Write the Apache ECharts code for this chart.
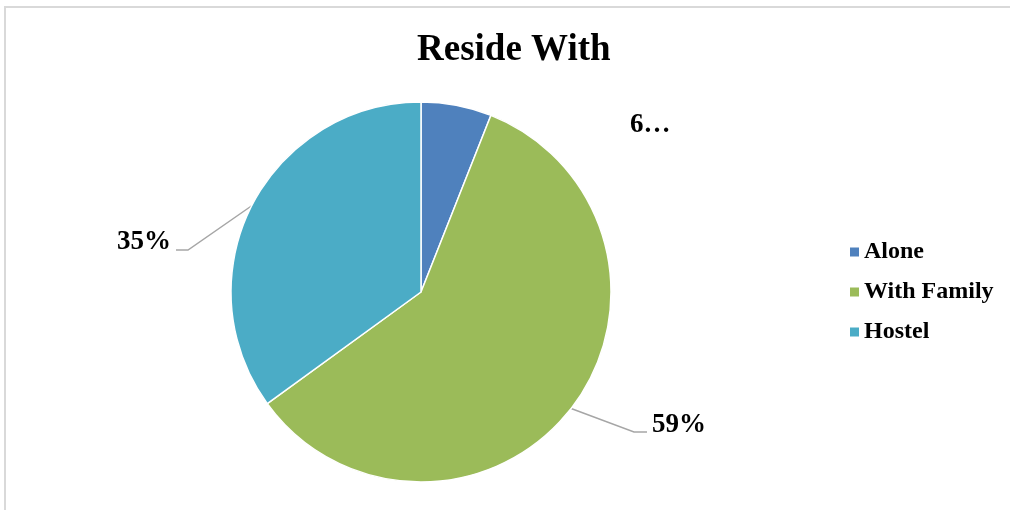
<!DOCTYPE html>
<html>
<head>
<meta charset="utf-8">
<script src="https://cdn.jsdelivr.net/npm/echarts@6/dist/echarts.min.js"></script>
<style>
  html, body { margin: 0; padding: 0; background: #fff; }
  #frame { position: absolute; left: 4px; top: 6px; width: 1010px; height: 510px;
           border-left: 2px solid #d9d9d9; border-top: 2px solid #d9d9d9; }
  #main { position: absolute; left: 0; top: 0; width: 1010px; height: 510px; }
</style>
</head>
<body>
<div id="frame"></div>
<div id="main"></div>
<script>
// data
var categories = ['Alone', 'With Family', 'Hostel'];
var shares = [6, 59, 35];
var colors = ['#4f81bd', '#9bbb59', '#4bacc6'];

var serif = '"Liberation Serif", "Times New Roman", serif';
var myChart = echarts.init(document.getElementById('main'));

var data = categories.map(function (name, i) {
  return {
    name: name,
    value: shares[i],
    labelLine: { show: i !== 0 }
  };
});

myChart.setOption({
  animation: false,
  color: colors,
  title: {
    text: 'Reside With',
    left: 417,
    top: 32,
    padding: 0,
    textStyle: { fontFamily: serif, fontWeight: 'bold', fontSize: 37, color: '#000' }
  },
  legend: {
    orient: 'vertical',
    left: 848,
    top: 240,
    padding: 0,
    itemWidth: 11,
    itemHeight: 11,
    itemGap: 16,
    icon: 'rect',
    textStyle: { fontFamily: serif, fontWeight: 'bold', fontSize: 24, lineHeight: 24, color: '#000', padding: [0, 0, 0, -1] },
    data: categories
  },
  series: [{
    type: 'pie',
    center: [421, 292],
    radius: 190,
    startAngle: 90,
    clockwise: true,
    itemStyle: { borderColor: '#fff', borderWidth: 1.5 },
    label: {
      show: true,
      position: 'outside',
      fontFamily: serif,
      fontWeight: 'bold',
      fontSize: 27,
      color: '#000',
      formatter: function (p) {
        return p.dataIndex === 0 ? String(p.value).charAt(0) + '…' : p.value + '%';
      }
    },
    labelLine: { show: true, lineStyle: { color: '#a6a6a6', width: 1.5 } },
    labelLayout: function (p) {
      var s = p.labelLinePoints ? p.labelLinePoints[0] : null;
      if (p.dataIndex === 0) {
        return { x: 630, y: 125, align: 'left', verticalAlign: 'middle' };
      }
      if (p.dataIndex === 1) {
        return { x: 652, y: 425, align: 'left', verticalAlign: 'middle',
                 labelLinePoints: [s, [634, 432], [647, 432]] };
      }
      return { x: 171, y: 242, align: 'right', verticalAlign: 'middle',
               labelLinePoints: [s, [188, 250], [176, 250]] };
    },
    data: data
  }]
});
</script>
</body>
</html>
